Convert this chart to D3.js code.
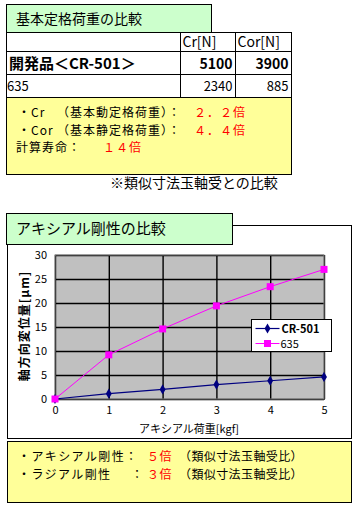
<!DOCTYPE html>
<html lang="ja">
<head>
<meta charset="utf-8">
<title>アキシアル剛性の比較</title>
<script src="https://cdn.jsdelivr.net/npm/d3@7"></script>
<style>
  body { margin: 0; background: #fff; }
  text { font-family: "Noto Sans CJK JP", sans-serif; }
</style>
</head>
<body>
<svg width="362" height="506"></svg>
<script>
  // table data
  const tableHeader = ["", "Cr[N]", "Cor[N]"];
  const tableRows = [
    ["開発品＜CR-501＞", "5100", "3900"],
    ["635", "2340", "885"]
  ];

  // chart data
  const loads = [0, 1, 2, 3, 4, 5];
  const cr501 = [0, 1.1, 2.0, 3.0, 3.8, 4.6];
  const b635 = [0, 9.2, 14.6, 19.4, 23.4, 27.0];
  const yTicks = [0, 5, 10, 15, 20, 25, 30];

  const svg = d3.select("svg");
  const green = "#ccffcc", yellow = "#ffff99";

  // ---- top section ----
  svg.append("rect").attr("x", 6.5).attr("y", 4.5).attr("width", 205).attr("height", 28)
    .attr("fill", green).attr("stroke", "#000");
  svg.append("text").attr("x", 16).attr("y", 24).attr("font-size", 14).text("基本定格荷重の比較");

  const colX = [6.5, 180.5, 235.5, 291.5];
  const rowY = [32.5, 51.5, 74.5, 97.5];
  svg.append("rect").attr("x", 6.5).attr("y", 32.5).attr("width", 285).attr("height", 65)
    .attr("fill", "#fff").attr("stroke", "#000");
  rowY.slice(1, 3).forEach(y => svg.append("line").attr("x1", 6.5).attr("x2", 291.5)
    .attr("y1", y).attr("y2", y).attr("stroke", "#000"));
  colX.slice(1, 3).forEach(x => svg.append("line").attr("x1", x).attr("x2", x)
    .attr("y1", 32.5).attr("y2", 97.5).attr("stroke", "#000"));

  tableHeader.forEach((h, i) => {
    if (i > 0) svg.append("text").attr("x", colX[i] + 2).attr("y", 47).attr("font-size", 14).text(h);
  });
  tableRows.forEach((r, ri) => {
    const y = rowY[ri + 1] + (ri === 0 ? 17 : 16);
    const bold = ri === 0;
    svg.append("text").attr("x", bold ? 9 : 7).attr("y", y)
      .attr("font-size", bold ? 15 : 13).attr("font-weight", bold ? "bold" : "normal").text(r[0]);
    [1, 2].forEach(c => svg.append("text").attr("x", colX[c + 1] - 3).attr("y", y)
      .attr("text-anchor", "end").attr("font-size", bold ? 14 : 13)
      .attr("font-weight", bold ? "bold" : "normal").text(r[c]));
  });

  svg.append("rect").attr("x", 6.5).attr("y", 97.5).attr("width", 285).attr("height", 77)
    .attr("fill", yellow).attr("stroke", "#000");
  const notes = [
    [["・Cr", 18], ["（基本動定格荷重）：", 57], ["２．２倍", 194, true]],
    [["・Cor", 18], ["（基本静定格荷重）：", 57], ["４．４倍", 194, true]],
    [["計算寿命：", 16], ["１４倍", 103, true]]
  ];
  notes.forEach((n, i) => {
    n.forEach(p => svg.append("text").attr("x", p[1]).attr("y", 117 + i * 17.5)
      .attr("font-size", 12).attr("letter-spacing", 1)
      .attr("fill", p[2] ? "#ff0000" : "#000").text(p[0]));
  });
  svg.append("text").attr("x", 110).attr("y", 188).attr("font-size", 14).text("※類似寸法玉軸受との比較");

  // ---- chart section ----
  svg.append("rect").attr("x", 7.5).attr("y", 225.5).attr("width", 344).attr("height", 213)
    .attr("fill", "#fff").attr("stroke", "#000");
  svg.append("rect").attr("x", 6.5).attr("y", 213.5).attr("width", 226).attr("height", 31)
    .attr("fill", green).attr("stroke", "#000");
  svg.append("text").attr("x", 16).attr("y", 234).attr("font-size", 15).text("アキシアル剛性の比較");

  const x = d3.scaleLinear().domain([0, 5]).range([55, 324]);
  const y = d3.scaleLinear().domain([0, 30]).range([399, 255]);

  svg.append("rect").attr("x", x(0)).attr("y", y(30)).attr("width", x(5) - x(0))
    .attr("height", y(0) - y(30)).attr("fill", "#c0c0c0");

  svg.append("g").attr("transform", `translate(0,${y(0)})`)
    .call(d3.axisBottom(x).tickValues(loads).tickSize(-(y(0) - y(30))).tickFormat(d3.format("d")))
    .call(g => g.select(".domain").attr("stroke", "#000"))
    .call(g => g.selectAll(".tick line").attr("stroke", "#000").attr("stroke-width", 1.4))
    .call(g => g.selectAll(".tick text").attr("dy", 0).attr("y", 15).attr("font-size", 11)
      .attr("font-family", "Liberation Sans, sans-serif"));
  svg.append("g").attr("transform", `translate(${x(0)},0)`)
    .call(d3.axisLeft(y).tickValues(yTicks).tickSize(-(x(5) - x(0))))
    .call(g => g.select(".domain").attr("stroke", "#000"))
    .call(g => g.selectAll(".tick line").attr("stroke", "#000").attr("stroke-width", 1.4))
    .call(g => g.selectAll(".tick text").attr("x", -8).attr("font-size", 11)
      .attr("font-family", "Liberation Sans, sans-serif"));
  svg.append("rect").attr("x", x(0)).attr("y", y(30)).attr("width", x(5) - x(0))
    .attr("height", y(0) - y(30)).attr("fill", "none").attr("stroke", "#808080");

  const line = d3.line().x((d, i) => x(loads[i])).y(d => y(d));
  svg.append("path").datum(b635).attr("d", line).attr("fill", "none")
    .attr("stroke", "#ff00ff").attr("stroke-width", 1);
  svg.append("path").datum(cr501).attr("d", line).attr("fill", "none")
    .attr("stroke", "#000080").attr("stroke-width", 1.2);

  const diamond = d3.symbol().type(d3.symbolDiamond).size(30);
  svg.append("g").selectAll("path").data(cr501).join("path")
    .attr("d", diamond).attr("transform", (d, i) => `translate(${x(loads[i])},${y(d)})`)
    .attr("fill", "#000080");
  svg.append("g").selectAll("rect").data(b635).join("rect")
    .attr("x", (d, i) => x(loads[i]) - 3.5).attr("y", d => y(d) - 3.5)
    .attr("width", 7).attr("height", 7).attr("fill", "#ff00ff");

  // legend
  const lg = svg.append("g").attr("transform", "translate(251.5,319.5)");
  lg.append("rect").attr("width", 80).attr("height", 32).attr("fill", "#fff").attr("stroke", "#000");
  lg.append("line").attr("x1", 4).attr("x2", 28).attr("y1", 9).attr("y2", 9).attr("stroke", "#000080").attr("stroke-width", 1.2);
  lg.append("path").attr("d", diamond).attr("transform", "translate(16,9)").attr("fill", "#000080");
  lg.append("text").attr("x", 30).attr("y", 13.5).attr("font-size", 11).attr("font-weight", "bold")
    .attr("font-family", "Liberation Sans, sans-serif").text("CR-501");
  lg.append("line").attr("x1", 4).attr("x2", 28).attr("y1", 24).attr("y2", 24).attr("stroke", "#ff00ff");
  lg.append("rect").attr("x", 12.5).attr("y", 20.5).attr("width", 7).attr("height", 7).attr("fill", "#ff00ff");
  lg.append("text").attr("x", 29).attr("y", 28.5).attr("font-size", 11)
    .attr("font-family", "Liberation Sans, sans-serif").text("635");

  // axis titles
  svg.append("text").attr("x", 189).attr("y", 433).attr("text-anchor", "middle")
    .attr("font-size", 11).text("アキシアル荷重[kgf]");
  svg.append("text").attr("transform", "translate(29,326) rotate(-90)").attr("text-anchor", "middle")
    .attr("font-size", 12).attr("font-weight", "bold").attr("letter-spacing", 1).text("軸方向変位量[μm]");

  // bottom note box
  svg.append("rect").attr("x", 7.5).attr("y", 441.5).attr("width", 344).attr("height", 61)
    .attr("fill", yellow).attr("stroke", "#000");
  const notes2 = [
    [["・アキシアル剛性：", 18, false, 1.4], ["５倍", 147, true, 0.5], ["（類似寸法玉軸受比）", 179, false, 0.4]],
    [["・ラジアル剛性", 18, false, 1.4], ["：", 131, false, 0], ["３倍", 147, true, 0.5], ["（類似寸法玉軸受比）", 179, false, 0.4]]
  ];
  notes2.forEach((n, i) => {
    n.forEach(p => svg.append("text").attr("x", p[1]).attr("y", 461 + i * 18)
      .attr("font-size", 12).attr("letter-spacing", p[3])
      .attr("fill", p[2] ? "#ff0000" : "#000").text(p[0]));
  });
</script>
</body>
</html>
